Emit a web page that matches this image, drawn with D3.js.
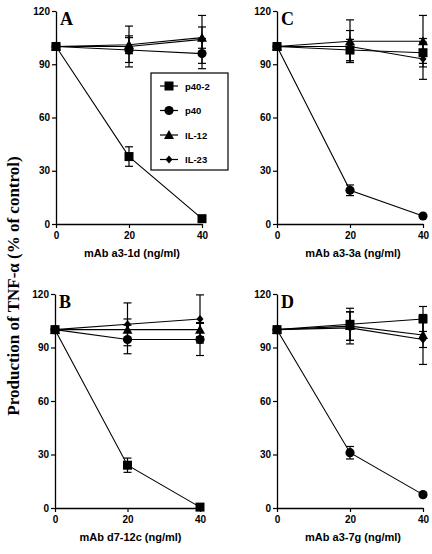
<!DOCTYPE html>
<html><head><meta charset="utf-8">
<script src="https://cdn.jsdelivr.net/npm/d3@7"></script>
<style>body{margin:0;background:#fff}svg{display:block}</style>
</head><body>
<script>
const doses = [0, 20, 40];
const yTicks = [0, 30, 60, 90, 120];
const seriesNames = ["p40-2", "p40", "IL-12", "IL-23"];
const seriesShapes = ["square", "circle", "triangle", "diamond"];
const panelLetters = ["A", "C", "B", "D"];
const panelXLabels = ["mAb a3-1d (ng/ml)", "mAb a3-3a (ng/ml)", "mAb d7-12c (ng/ml)", "mAb a3-7g (ng/ml)"];
// values per panel: [p40-2, p40, IL-12, IL-23]
const valuesA = [[100, 38, 3], [100, 98, 96], [100, 101, 105], [100, 100, 104]];
const errorsA = [[0, 5.5, 1], [0, 7, 8.5], [0, 5, 6], [0, 11.5, 13.5]];
const valuesC = [[100, 98, 96.5], [100, 19, 4.5], [100, 103, 103], [100, 100, 93]];
const errorsC = [[0, 6, 6], [0, 3, 1], [0, 12, 14.5], [0, 9, 11.5]];
const valuesB = [[100, 24, 0.5], [100, 94.5, 94.5], [100, 100, 100], [100, 103, 106]];
const errorsB = [[0, 4, 0], [0, 8, 9], [0, 6, 4], [0, 12, 13.5]];
const valuesD = [[100, 103, 106], [100, 31, 7.5], [100, 102, 97], [100, 101, 94.5]];
const errorsD = [[0, 9, 7], [0, 3.5, 1], [0, 8, 7], [0, 9, 14]];
const yTitle = "Production of TNF-\u03b1 (% of control)";

const W = 432, H = 554;
const svg = d3.select("body").append("svg").attr("width", W).attr("height", H);

const panels = [
  {x0: 56, x1: 202, yTop: 11, yBot: 224, v: valuesA, e: errorsA},
  {x0: 277, x1: 423, yTop: 11, yBot: 224, v: valuesC, e: errorsC},
  {x0: 55, x1: 200, yTop: 294, yBot: 508, v: valuesB, e: errorsB},
  {x0: 277, x1: 423, yTop: 294, yBot: 508, v: valuesD, e: errorsD}
];

function drawMarker(g, shape, cx, cy) {
  if (shape === "square") {
    g.append("rect").attr("x", cx - 4.5).attr("y", cy - 4.5).attr("width", 9).attr("height", 9).attr("fill", "#000");
  } else if (shape === "circle") {
    g.append("circle").attr("cx", cx).attr("cy", cy).attr("r", 4.6).attr("fill", "#000");
  } else if (shape === "triangle") {
    g.append("path").attr("d", `M${cx},${cy-5}L${cx+5},${cy+4}L${cx-5},${cy+4}Z`).attr("fill", "#000");
  } else {
    g.append("path").attr("d", `M${cx},${cy-4}L${cx+3.5},${cy}L${cx},${cy+4}L${cx-3.5},${cy}Z`).attr("fill", "#000");
  }
}

panels.forEach((p, pi) => {
  const x = d3.scaleLinear().domain([0, 40]).range([p.x0, p.x1]);
  const y = d3.scaleLinear().domain([0, 120]).range([p.yBot, p.yTop]);
  const g = svg.append("g");

  const ya = g.append("g").attr("transform", `translate(${p.x0},0)`)
    .call(d3.axisLeft(y).tickValues(yTicks).tickSize(4).tickPadding(2).tickSizeOuter(0));
  const xa = g.append("g").attr("transform", `translate(0,${p.yBot})`)
    .call(d3.axisBottom(x).tickValues(doses).tickSize(4).tickPadding(4).tickSizeOuter(0));
  [ya, xa].forEach(a => {
    a.select(".domain").attr("stroke", "#000").attr("stroke-width", 1.3);
    a.selectAll(".tick line").attr("stroke", "#000").attr("stroke-width", 1.2);
    a.selectAll("text").attr("font-family", "Liberation Sans, Arial, sans-serif")
      .attr("font-weight", "bold").attr("font-size", 10).attr("fill", "#000");
  });

  g.append("text").attr("x", (p.x0 + p.x1) / 2 + 3).attr("y", p.yBot + 33)
    .attr("text-anchor", "middle").attr("font-family", "Liberation Sans, Arial, sans-serif")
    .attr("font-weight", "bold").attr("font-size", 11).text(panelXLabels[pi]);
  g.append("text").attr("x", p.x0 + 4).attr("y", p.yTop + 14)
    .attr("font-family", "Liberation Serif, Times New Roman, serif")
    .attr("font-weight", "bold").attr("font-size", 18).text(panelLetters[pi]);

  // error bars
  p.v.forEach((vals, si) => {
    vals.forEach((val, di) => {
      const err = p.e[si][di];
      if (err <= 1) return;
      const cx = x(doses[di]);
      g.append("line").attr("x1", cx).attr("x2", cx).attr("y1", y(val - err)).attr("y2", y(val + err))
        .attr("stroke", "#000").attr("stroke-width", 1.2);
      [val - err, val + err].forEach(ev => {
        g.append("line").attr("x1", cx - 4).attr("x2", cx + 4).attr("y1", y(ev)).attr("y2", y(ev))
          .attr("stroke", "#000").attr("stroke-width", 1.2);
      });
    });
  });
  // lines
  const line = d3.line().x((d, i) => x(doses[i])).y(d => y(d));
  p.v.forEach(vals => {
    g.append("path").attr("d", line(vals)).attr("fill", "none").attr("stroke", "#000").attr("stroke-width", 1.1);
  });
  // markers
  p.v.forEach((vals, si) => {
    vals.forEach((val, di) => drawMarker(g, seriesShapes[si], x(doses[di]), y(val)));
  });
});

// legend
const lg = svg.append("g");
lg.append("rect").attr("x", 151).attr("y", 73).attr("width", 77).attr("height", 97)
  .attr("fill", "#fff").attr("stroke", "#000").attr("stroke-width", 1.2);
seriesNames.forEach((name, i) => {
  const cy = 86 + i * 24.5;
  lg.append("line").attr("x1", 160).attr("x2", 178).attr("y1", cy).attr("y2", cy).attr("stroke", "#000").attr("stroke-width", 1.2);
  drawMarker(lg, seriesShapes[i], 169, cy);
  lg.append("text").attr("x", 185).attr("y", cy + 3.5).attr("font-family", "Liberation Sans, Arial, sans-serif")
    .attr("font-weight", "bold").attr("font-size", 9.5).text(name);
});

// y title
svg.append("text").attr("transform", "translate(19,286) rotate(-90)").attr("text-anchor", "middle")
  .attr("font-family", "Liberation Serif, Times New Roman, serif").attr("font-weight", "bold")
  .attr("font-size", 17).text(yTitle);
</script>
</body></html>
